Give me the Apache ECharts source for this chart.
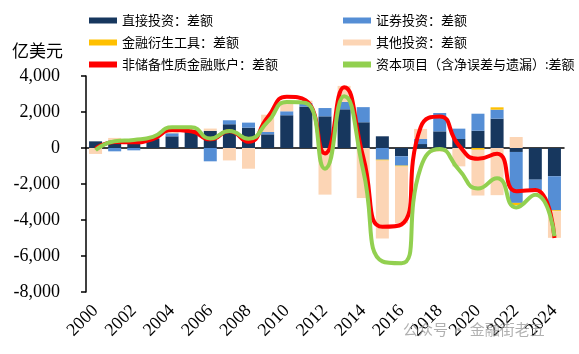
<!DOCTYPE html>
<html>
<head>
<meta charset="utf-8">
<script src="https://cdn.jsdelivr.net/npm/echarts@6/dist/echarts.min.js"></script>
<style>
  html, body { margin: 0; padding: 0; background: #fff; }
  #chart { width: 579px; height: 354px; }
</style>
</head>
<body>
<div id="chart"></div>
<script>
// 年份
var years = ['2000', '2001', '2002', '2003', '2004', '2005', '2006', '2007', '2008', '2009',
  '2010', '2011', '2012', '2013', '2014', '2015', '2016', '2017', '2018', '2019',
  '2020', '2021', '2022', '2023', '2024'];

// 柱子：各分项差额（亿美元）
var direct = [370, 410, 280, 520, 650, 1000, 950, 1320, 1130, 760, 1820, 2300, 1760, 2150, 1430, 650, -460, 220, 925, 500, 960, 1630, -220, -1760, -1570];
var portfolio = [0, -185, -130, 60, 170, 0, -740, 220, 280, 130, 220, 200, 460, 410, 840, -650, -520, 280, 1020, 575, 945, 500, -2830, -610, -1890];
var derivative = [0, 0, 0, 0, 0, 0, 0, 0, 0, 0, 0, 0, 0, 0, 0, -50, -50, 0, 0, 0, -100, 130, -130, -50, -50];
var other = [-330, 150, 0, 0, 120, 0, 130, -690, -1150, 960, 425, 130, -2590, 890, -2780, -4330, -3150, 560, -200, -1020, -2540, -2620, 610, 0, -1480];

// 折线
var financial = [-40, 330, 320, 500, 1000, 930, 480, 930, 350, 1700, 2850, 2650, -300, 3380, -500, -4380, -4250, 1150, 1750, 150, -600, -320, -2400, -2330, -5000];
var capital = [-120, 380, 450, 620, 1150, 1150, 530, 950, 520, 1450, 2560, 2500, -1150, 2870, -1250, -6300, -6400, -1100, -60, -1200, -2250, -1680, -3300, -2600, -4900];

var yTicks = [-8000, -6000, -4000, -2000, 0, 2000, 4000];

var cjk = '"Noto Sans CJK SC", sans-serif';
var numFont = '"Liberation Serif", "DejaVu Serif", serif';

function fmt(v) {
  var s = Math.abs(v).toString().replace(/\B(?=(\d{3})+(?!\d))/g, ',');
  return (v < 0 ? '-' : '') + s;
}

var chart = echarts.init(document.getElementById('chart'));

var legendText = { fontFamily: cjk, fontSize: 13, color: '#000' };

var option = {
  animation: false,
  backgroundColor: '#fff',
  title: {
    text: '亿美元',
    left: 7,
    top: 37,
    textStyle: { fontFamily: cjk, fontSize: 17, fontWeight: 'normal', color: '#000' }
  },
  legend: [
    {
      orient: 'vertical',
      left: 84,
      top: 9,
      itemWidth: 28,
      itemHeight: 6,
      itemGap: 9,
      icon: 'rect',
      textStyle: legendText,
      data: ['直接投资：差额', '金融衍生工具：差额', '非储备性质金融账户：差额']
    },
    {
      orient: 'vertical',
      left: 338,
      top: 9,
      itemWidth: 28,
      itemHeight: 6,
      itemGap: 9,
      icon: 'rect',
      textStyle: legendText,
      data: ['证券投资：差额', '其他投资：差额', '资本项目（含净误差与遗漏）:差额']
    }
  ],
  grid: { left: 86, right: 15, top: 76, bottom: 62, outerBoundsMode: 'none' },
  xAxis: {
    type: 'category',
    data: years,
    axisLine: { onZero: true, lineStyle: { color: '#000', width: 1.5 } },
    axisTick: { interval: 1, length: 4, lineStyle: { color: '#000', width: 1.5 } },
    axisLabel: {
      interval: 1,
      rotate: 45,
      fontFamily: numFont,
      fontSize: 18,
      color: '#000',
      margin: 16
    }
  },
  yAxis: {
    type: 'value',
    min: -8000,
    max: 4000,
    interval: 2000,
    splitLine: { show: false },
    axisLine: { show: true, lineStyle: { color: '#000', width: 1.5 } },
    axisTick: { show: true, length: 5, lineStyle: { color: '#000', width: 1.5 } },
    axisLabel: {
      fontFamily: numFont,
      fontSize: 18,
      color: '#000',
      margin: 26,
      formatter: function (v) { return yTicks.indexOf(v) >= 0 ? fmt(v) : ''; }
    }
  },
  series: [
    { name: '直接投资：差额', type: 'bar', stack: 'bop', data: direct, barWidth: 13, itemStyle: { color: '#17375E' } },
    { name: '证券投资：差额', type: 'bar', stack: 'bop', data: portfolio, itemStyle: { color: '#558ED5' } },
    { name: '金融衍生工具：差额', type: 'bar', stack: 'bop', data: derivative, itemStyle: { color: '#FFC000' } },
    { name: '其他投资：差额', type: 'bar', stack: 'bop', data: other, itemStyle: { color: '#FCD5B5' } },
    {
      name: '非储备性质金融账户：差额', type: 'line', data: financial, smooth: 0.55,
      symbol: 'none', lineStyle: { color: '#FF0000', width: 4 }, itemStyle: { color: '#FF0000' }, z: 5
    },
    {
      name: '资本项目（含净误差与遗漏）:差额', type: 'line', data: capital, smooth: 0.55,
      symbol: 'none', lineStyle: { color: '#92D050', width: 4 }, itemStyle: { color: '#92D050' }, z: 6
    }
  ],
  graphic: [
    {
      type: 'text',
      left: 403,
      top: 322,
      z: 100,
      style: { text: '公众号 · 金融街老五', fontFamily: cjk, fontSize: 15, fill: 'rgba(150,150,150,0.75)' }
    }
  ]
};

chart.setOption(option);
</script>
</body>
</html>
